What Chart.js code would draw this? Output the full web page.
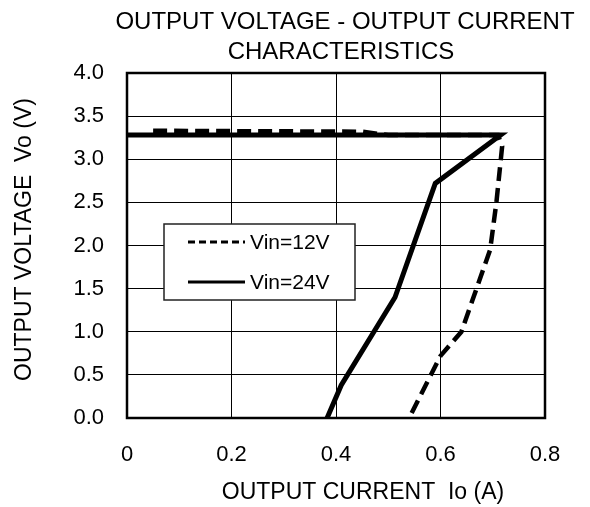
<!DOCTYPE html>
<html>
<head>
<meta charset="utf-8">
<script src="https://cdn.jsdelivr.net/npm/chart.js@4.4.1/dist/chart.umd.min.js"></script>
<style>
  body { margin: 0; background: #fff; }
  canvas { display: block; }
</style>
</head>
<body>
<canvas id="chart" width="590" height="507"></canvas>
<script>
// series
const seriesLabels = ['Vin=12V', 'Vin=24V'];
const io12 = [0.05, 0.45, 0.50, 0.71, 0.718, 0.707, 0.695, 0.64, 0.60, 0.54];
const vo12 = [3.33, 3.32, 3.28, 3.28, 3.15, 2.50, 1.95, 1.00, 0.72, 0.00];
const io24 = [0.00, 0.715, 0.59, 0.513, 0.41, 0.383];
const vo24 = [3.28, 3.28, 2.72, 1.40, 0.38, 0.00];

const xTicks = [0, 0.2, 0.4, 0.6, 0.8];
const xTickLabels = ['0', '0.2', '0.4', '0.6', '0.8'];
const yTicks = [0, 0.5, 1.0, 1.5, 2.0, 2.5, 3.0, 3.5, 4.0];
const yTickLabels = ['0.0', '0.5', '1.0', '1.5', '2.0', '2.5', '3.0', '3.5', '4.0'];

const titleLines = ['OUTPUT VOLTAGE - OUTPUT CURRENT', 'CHARACTERISTICS'];
const xTitle = 'OUTPUT CURRENT  Io (A)';
const yTitle = 'OUTPUT VOLTAGE  Vo (V)';

const FONT = "'Liberation Sans', Arial, sans-serif";

function toPoints(xs, ys) {
  return xs.map((x, i) => ({ x: x, y: ys[i] }));
}

// frame, legend box and the titles
const decor = {
  id: 'decor',
  beforeDatasetsDraw(chart) {
    const { ctx, chartArea: a } = chart;
    ctx.save();
    ctx.strokeStyle = '#000';
    ctx.lineWidth = 2.5;
    ctx.strokeRect(a.left, a.top, a.right - a.left, a.bottom - a.top);
    ctx.restore();
  },
  afterDatasetsDraw(chart) {
    const ctx = chart.ctx;
    const bx = 164, by = 224, bw = 191, bh = 76;
    ctx.save();
    ctx.fillStyle = '#fff';
    ctx.fillRect(bx, by, bw, bh);
    ctx.strokeStyle = '#222';
    ctx.lineWidth = 1.5;
    ctx.strokeRect(bx, by, bw, bh);
    ctx.font = '21px ' + FONT;
    ctx.textBaseline = 'middle';
    ctx.fillStyle = '#000';
    chart.data.datasets.forEach((ds, i) => {
      const y = by + 18 + i * 40;
      ctx.beginPath();
      ctx.setLineDash(i === 0 ? [7, 4] : []);
      ctx.lineWidth = 3;
      ctx.strokeStyle = '#000';
      ctx.moveTo(bx + 24, y);
      ctx.lineTo(bx + 81, y);
      ctx.stroke();
      ctx.setLineDash([]);
      ctx.fillText(ds.label, bx + 86, y + 1);
    });
    ctx.restore();
  },
  afterDraw(chart) {
    const { ctx, chartArea: a } = chart;
    const mid = (a.left + a.right) / 2;
    ctx.save();
    ctx.fillStyle = '#000';
    ctx.textAlign = 'center';
    ctx.textBaseline = 'middle';
    ctx.font = '24px ' + FONT;
    ctx.fillText(titleLines[0], mid + 9, 22);
    ctx.fillText(titleLines[1], mid + 5, 52);
    ctx.font = '23px ' + FONT;
    ctx.fillText(xTitle, mid + 27, 493);
    ctx.translate(25, (a.top + a.bottom) / 2 - 6);
    ctx.rotate(-Math.PI / 2);
    ctx.fillText(yTitle, 0, 0);
    ctx.restore();
  }
};

document.addEventListener('DOMContentLoaded', () => {
  const ctx = document.getElementById('chart').getContext('2d');
  new Chart(ctx, {
    type: 'line',
    data: {
      datasets: [{
        label: seriesLabels[0],
        data: toPoints(io12, vo12),
        borderColor: '#000',
        borderWidth: 4.5,
        borderDash: [14, 7],
        pointRadius: 0,
        tension: 0,
        order: 1
      }, {
        label: seriesLabels[1],
        data: toPoints(io24, vo24),
        borderColor: '#000',
        borderWidth: 5,
        borderJoinStyle: 'miter',
        pointRadius: 0,
        tension: 0,
        order: 0
      }]
    },
    options: {
      responsive: false,
      animation: false,
      layout: { padding: { top: 73, right: 45, left: 0, bottom: 0 } },
      plugins: {
        legend: { display: false },
        tooltip: { enabled: false }
      },
      scales: {
        x: {
          type: 'linear',
          min: 0,
          max: 0.8,
          afterBuildTicks: s => { s.ticks = xTicks.map(v => ({ value: v })); },
          afterFit: s => { s.height = 89; },
          grid: { color: '#000', lineWidth: 1, drawTicks: false },
          border: { display: false },
          ticks: {
            padding: 24,
            color: '#000',
            font: { family: FONT, size: 22 },
            callback: (v, i) => xTickLabels[i]
          }
        },
        y: {
          min: 0,
          max: 4,
          afterBuildTicks: s => { s.ticks = yTicks.map(v => ({ value: v })); },
          afterFit: s => { s.width = 127; },
          grid: { color: '#000', lineWidth: 1, drawTicks: false },
          border: { display: false },
          ticks: {
            padding: 23,
            color: '#000',
            font: { family: FONT, size: 22 },
            callback: (v, i) => yTickLabels[i]
          }
        }
      }
    },
    plugins: [decor]
  });
});
</script>
</body>
</html>
